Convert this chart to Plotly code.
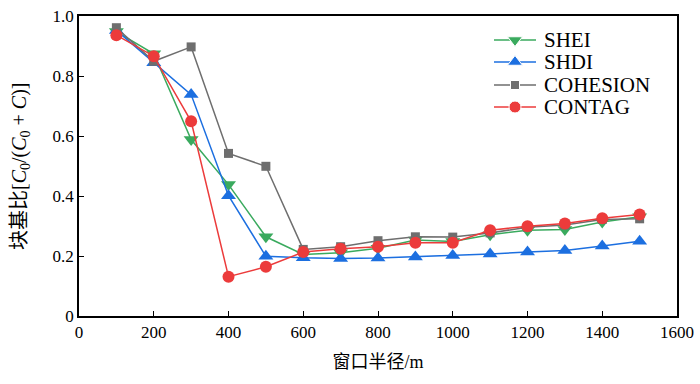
import plotly.graph_objects as go

radius = [100, 200, 300, 400, 500, 600, 700, 800, 900, 1000, 1100, 1200, 1300, 1400, 1500]
shei = [0.948, 0.874, 0.588, 0.438, 0.264, 0.205, 0.211, 0.226, 0.253, 0.248, 0.271, 0.286, 0.288, 0.313, 0.331]
shdi = [0.952, 0.844, 0.738, 0.401, 0.199, 0.194, 0.192, 0.193, 0.197, 0.202, 0.207, 0.213, 0.218, 0.233, 0.249]
cohesion = [0.961, 0.849, 0.897, 0.542, 0.499, 0.222, 0.231, 0.251, 0.264, 0.263, 0.277, 0.296, 0.303, 0.322, 0.324]
contag = [0.936, 0.866, 0.649, 0.131, 0.164, 0.213, 0.224, 0.231, 0.244, 0.244, 0.286, 0.299, 0.308, 0.326, 0.338]

series = [
    ("SHEI", shei, "#3aaa5e", "triangle-down", 13),
    ("SHDI", shdi, "#1c6fe0", "triangle-up", 13),
    ("COHESION", cohesion, "#6e6e6e", "square", 9),
    ("CONTAG", contag, "#ec3b3b", "circle", 12),
]

# plot area in pixels
L, R, T, B = 79, 677, 16, 316
W, H = 700, 384

fig = go.Figure()
for name, vals, color, sym, size in series:
    fig.add_trace(go.Scatter(
        x=radius, y=vals, name=name, mode="lines+markers", showlegend=False,
        line=dict(color=color, width=1.5),
        marker=dict(symbol=sym, size=size, color=color, opacity=1),
    ))

serif = "Liberation Serif, Times New Roman, serif"
mixed = "Liberation Serif, Noto Sans CJK SC, serif"

# hand-built legend on a pixel-scaled overlay axis (tighter row spacing than plotly's legend)
leg_rows = [40, 62, 85, 107]
leg_x0, leg_x1, leg_text = 494, 536, 542
annotations = []
for (name, vals, color, sym, size), ry in zip(series, leg_rows):
    fig.add_trace(go.Scatter(
        x=[leg_x0, (leg_x0 + leg_x1) / 2, leg_x1], y=[ry, ry, ry],
        xaxis="x2", yaxis="y2", mode="lines+markers", showlegend=False, hoverinfo="skip",
        line=dict(color=color, width=1.5),
        marker=dict(symbol=sym, size=[0, size, 0], color=color, opacity=1),
    ))
    annotations.append(dict(x=leg_text, y=ry, xref="x2", yref="y2", text=name, showarrow=False,
                            xanchor="left", yanchor="middle", font=dict(family=serif, size=21, color="black")))

annotations.append(dict(
    x=(20 - L) / (R - L), y=0.5, xref="paper", yref="paper", textangle=-90, showarrow=False,
    xanchor="center", yanchor="middle",
    text="块基比[<i>C</i><sub>0</sub>/(<i>C</i><sub>0</sub> + <i>C</i>)]",
    font=dict(size=20, family=mixed, color="black"),
))

fig.update_layout(
    width=W, height=H,
    margin=dict(l=L, r=W - R, t=T, b=H - B, autoexpand=False),
    plot_bgcolor="white", paper_bgcolor="white",
    font=dict(family=serif, size=17, color="black"),
    showlegend=False,
    annotations=annotations,
    xaxis2=dict(overlaying="x", range=[L, R], visible=False, fixedrange=True),
    yaxis2=dict(overlaying="y", range=[B, T], visible=False, fixedrange=True),
)
fig.update_layout(xaxis=dict(
    range=[0, 1600], tickvals=[0, 200, 400, 600, 800, 1000, 1200, 1400, 1600],
    ticks="inside", ticklen=5, tickwidth=1.2, tickcolor="black",
    showline=True, linecolor="black", linewidth=1.5, mirror=True,
    showgrid=False, zeroline=False, automargin=False,
    tickfont=dict(family=serif, size=17),
    title=dict(text="窗口半径/m", font=dict(size=18, family=mixed), standoff=14),
))
fig.update_layout(yaxis=dict(
    range=[0, 1.0], tickvals=[0, 0.2, 0.4, 0.6, 0.8, 1.0],
    ticktext=["0", "0.2", "0.4", "0.6", "0.8", "1.0"],
    ticks="inside", ticklen=5, tickwidth=1.2, tickcolor="black",
    showline=True, linecolor="black", linewidth=1.5, mirror=True,
    showgrid=False, zeroline=False, automargin=False,
    tickfont=dict(family=serif, size=17),
))

fig.write_html("out.html", config={"displayModeBar": False},
               post_script="document.body.style.margin='0';document.body.style.padding='0';")
